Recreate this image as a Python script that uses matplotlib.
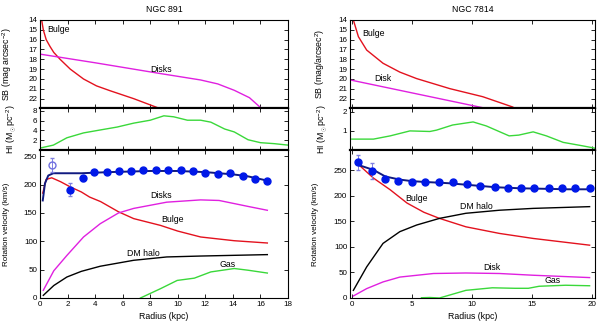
import matplotlib.pyplot as plt
import numpy as np

# ---- NGC 891 ----
n891_sb_bulge_r = [0.12, 0.24, 0.45, 0.73, 1.0, 1.46, 2.2, 3.16, 4.1, 5.1, 6.8, 8.5]
n891_sb_bulge = [14.0, 15.0, 16.0, 16.7, 17.3, 18.0, 19.0, 20.0, 20.7, 21.2, 22.0, 22.9]
n891_sb_disk_r = [0.0, 4.0, 8.75, 11.66, 12.9, 14.1, 15.2, 16.0]
n891_sb_disk = [17.47, 18.35, 19.45, 20.1, 20.5, 21.15, 21.9, 22.9]

n891_hi_r = [0.12, 0.97, 1.95, 3.16, 4.37, 5.6, 6.8, 8.0, 8.99, 9.7, 10.7, 11.66, 12.4, 13.4, 14.1, 15.1, 16.0, 17.0, 18.0]
n891_hi = [0.47, 1.0, 2.5, 3.5, 4.1, 4.7, 5.5, 6.1, 7.0, 6.8, 6.1, 6.1, 5.7, 4.3, 3.7, 2.1, 1.5, 1.3, 1.0]

n891_obs_r = [2.19, 3.11, 3.94, 4.84, 5.71, 6.6, 7.5, 8.4, 9.3, 10.2, 11.1, 12.0, 12.9, 13.8, 14.7, 15.6, 16.5]
n891_obs_v = [191, 211, 223, 222, 224, 224, 226, 226, 226, 226, 224, 221, 218, 220, 216, 209, 207]
n891_obs_err = [12, 4, 3, 3, 3, 3, 3, 3, 3, 3, 3, 3, 3, 3, 3, 3, 3]
n891_open_r = [0.85]
n891_open_v = [235]
n891_open_err = [12]

n891_fit_r = [0.2, 0.36, 0.6, 0.97, 3.0, 5.0, 8.0, 10.0, 12.0, 14.0, 15.0, 16.5]
n891_fit_v = [172, 202, 216, 220, 220, 222, 224, 224, 222, 218, 215, 207]
n891_bulge_r = [0.2, 0.44, 0.85, 1.5, 2.19, 3.0, 3.6, 4.4, 5.7, 6.8, 8.75, 10.0, 11.66, 14.1, 16.5]
n891_bulge_v = [185, 209, 212, 205, 196, 187, 178, 170, 152, 140, 128, 118, 107.6, 101, 97]
n891_disk_r = [0.24, 1.0, 1.95, 3.16, 4.37, 5.7, 6.8, 9.2, 11.66, 13.0, 14.1, 15.2, 16.5]
n891_disk_v = [13.6, 48, 75, 107.6, 131, 150, 158, 169, 173, 172, 166.5, 161, 154.7]
n891_halo_r = [0.24, 1.0, 1.95, 3.0, 4.37, 6.8, 9.2, 11.66, 16.5]
n891_halo_v = [4.7, 22, 37, 47, 56, 66.5, 72.4, 74, 76.5]
n891_gas_r = [7.29, 8.75, 9.96, 11.2, 12.4, 14.1, 15.1, 16.5]
n891_gas_v = [0, 16.5, 31, 35, 46, 52, 49, 44]

# ---- NGC 7814 ----
n7814_sb_bulge_r = [0.13, 0.55, 1.24, 2.6, 4.0, 5.4, 8.16, 10.9, 13.4]
n7814_sb_bulge = [14.0, 15.7, 17.06, 18.4, 19.3, 19.96, 20.98, 21.8, 22.85]
n7814_sb_disk_r = [0.0, 10.9]
n7814_sb_disk = [20.13, 22.92]

n7814_hi_r = [0.0, 1.8, 3.2, 4.84, 6.5, 7.05, 8.4, 10.1, 11.2, 13.1, 13.9, 15.1, 16.2, 17.6, 19.2, 20.2]
n7814_hi = [0.57, 0.57, 0.74, 1.0, 0.97, 1.04, 1.31, 1.47, 1.26, 0.74, 0.78, 0.95, 0.74, 0.4, 0.22, 0.1]

n7814_obs_r = [0.55, 1.66, 2.77, 3.88, 5.0, 6.1, 7.3, 8.4, 9.6, 10.7, 11.9, 13.0, 14.1, 15.2, 16.4, 17.5, 18.6, 19.8]
n7814_obs_v = [266, 249, 233, 230, 228, 228, 228, 227, 223, 220, 217, 215, 215, 215, 215, 215, 215, 215]
n7814_obs_err = [15, 16, 4, 3, 3, 3, 3, 3, 3, 3, 3, 3, 3, 3, 3, 3, 3, 3]

n7814_fit_r = [0.63, 1.8, 2.8, 4.0, 5.0, 6.0, 8.0, 10.0, 12.0, 14.0, 16.0, 18.0, 19.8]
n7814_fit_v = [260, 251, 238, 232, 229, 227.5, 225, 221, 217, 215, 214, 213, 213]
n7814_bulge_r = [0.63, 1.8, 3.2, 4.6, 6.0, 7.3, 9.5, 12.3, 15.1, 19.8]
n7814_bulge_v = [260, 235, 212, 186, 168, 156, 139.5, 126.5, 116.7, 103.5]
n7814_halo_r = [0.13, 1.24, 2.6, 4.0, 5.4, 7.3, 9.5, 12.3, 15.1, 19.8]
n7814_halo_v = [15, 61, 107, 130, 143, 156, 166, 172, 175.6, 179]
n7814_disk_r = [0.13, 1.24, 2.6, 4.0, 6.8, 9.5, 12.3, 15.1, 19.8]
n7814_disk_v = [4, 18.4, 31.5, 41, 48, 49, 48, 44.6, 40]
n7814_gas_r = [5.8, 6.5, 7.3, 9.5, 11.7, 13.6, 14.7, 15.6, 17.8, 19.8]
n7814_gas_v = [0.5, 1, 0, 15, 20, 19, 19, 23, 25, 24]

RED = '#e3121e'
MAG = '#e020e0'
GRN = '#3ad83a'
BLU = '#0018e8'
NAVY = '#101a80'
FS = 6.3
TFS = 5.8

plt.rcParams['font.family'] = ['Liberation Sans', 'DejaVu Sans']
plt.rcParams['font.size'] = FS
plt.rcParams['mathtext.fontset'] = 'custom'
plt.rcParams['mathtext.rm'] = 'Liberation Sans'
plt.rcParams['mathtext.it'] = 'Liberation Sans'

fig = plt.figure(figsize=(6, 3.25), dpi=100)

W, H = 600.0, 325.0


def ax_px(x0, x1, y0, y1):
    return fig.add_axes([x0 / W, 1 - y1 / H, (x1 - x0) / W, (y1 - y0) / H])


def style(ax):
    ax.tick_params(direction='in', top=True, right=True, length=3, width=0.6, pad=2, labelsize=TFS)
    for s in ax.spines.values():
        s.set_linewidth(0.8)


def ylab(ax, text, x0, xpix, width, fs=FS):
    ax.set_ylabel(text, fontsize=fs)
    # xpix is the text centre in figure pixels; label anchor is its right edge
    ax.yaxis.set_label_coords((xpix + 4 - x0) / width, 0.5)


cols = [(40, 288, (0, 18), np.arange(0, 19, 2), 'NGC 891'),
        (350, 595, (-0.15, 20.25), np.arange(0, 21, 5), 'NGC 7814')]

axes = []
for x0, x1, xl, xt, title in cols:
    a1 = ax_px(x0, x1, 20, 108)
    a2 = ax_px(x0, x1, 108, 150)
    a3 = ax_px(x0, x1, 150, 298)
    for a in (a1, a2, a3):
        a.set_xlim(*xl)
        a.set_xticks(xt)
        style(a)
    a1.set_xticklabels([])
    a2.set_xticklabels([])
    a1.set_ylim(22.95, 14)
    a1.set_yticks(np.arange(14, 23))
    a1.spines['bottom'].set_linewidth(1.6)
    a2.spines['bottom'].set_linewidth(1.6)
    a1.set_title(title, fontsize=FS, pad=6)
    a3.set_xlabel('Radius (kpc)', fontsize=FS, labelpad=3)
    axes.append((a1, a2, a3))

(l1, l2, l3), (r1, r2, r3) = axes

# NGC 891
l1.plot(n891_sb_bulge_r, n891_sb_bulge, color=RED, lw=1)
l1.plot(n891_sb_disk_r, n891_sb_disk, color=MAG, lw=1)
l1.text(0.5, 14.95, 'Bulge', va='center')
l1.text(8.8, 19.03, 'Disks', va='center', ha='center')
ylab(l1, 'SB (mag arcsec$^{-2}$)', 40, 10, 248)

l2.plot(n891_hi_r, n891_hi, color=GRN, lw=1)
l2.set_ylim(0, 8.6)
l2.set_yticks([2, 4, 6, 8])
ylab(l2, 'HI (M$_\\odot$pc$^{-2}$)', 40, 14, 248)

l3.set_ylim(0, 261)
l3.set_yticks(np.arange(0, 251, 50))
l3.plot(n891_bulge_r, n891_bulge_v, color=RED, lw=1)
l3.plot(n891_disk_r, n891_disk_v, color=MAG, lw=1)
l3.plot(n891_halo_r, n891_halo_v, color='black', lw=1)
l3.plot(n891_gas_r, n891_gas_v, color=GRN, lw=1)
l3.plot(n891_fit_r, n891_fit_v, color=NAVY, lw=1.4)
l3.errorbar(n891_obs_r, n891_obs_v, yerr=n891_obs_err, fmt='o', color=BLU, ms=5,
            ecolor='#8080e0', elinewidth=0.7, capsize=1.5)
l3.errorbar(n891_open_r, n891_open_v, yerr=n891_open_err, fmt='o', mfc='none', mec='#7070e0',
            ms=5, ecolor='#8080e0', elinewidth=0.7, capsize=1.5)
l3.text(8.8, 181, 'Disks', ha='center', va='center')
l3.text(9.65, 139, 'Bulge', ha='center', va='center')
l3.text(7.5, 79, 'DM halo', ha='center', va='center')
l3.text(13.6, 59.5, 'Gas', ha='center', va='center')
ylab(l3, 'Rotation velocity (km/s)', 40, 6, 248, fs=5.8)

# NGC 7814
r1.plot(n7814_sb_bulge_r, n7814_sb_bulge, color=RED, lw=1)
r1.plot(n7814_sb_disk_r, n7814_sb_disk, color=MAG, lw=1)
r1.text(0.9, 15.4, 'Bulge', va='center')
r1.text(1.85, 20.0, 'Disk', va='center')
ylab(r1, 'SB (mag/arcsec$^2$)', 350, 323, 245)

r2.plot(n7814_hi_r, n7814_hi, color=GRN, lw=1)
r2.set_ylim(0, 2.2)
r2.set_yticks([1, 2])
ylab(r2, 'HI (M$_\\odot$pc$^{-2}$)', 350, 325, 245)

r3.set_ylim(0, 290)
r3.set_yticks(np.arange(0, 251, 50))
r3.plot(n7814_bulge_r, n7814_bulge_v, color=RED, lw=1)
r3.plot(n7814_halo_r, n7814_halo_v, color='black', lw=1)
r3.plot(n7814_disk_r, n7814_disk_v, color=MAG, lw=1)
r3.plot(n7814_gas_r, n7814_gas_v, color=GRN, lw=1)
r3.plot(n7814_fit_r, n7814_fit_v, color=NAVY, lw=1.4)
r3.errorbar(n7814_obs_r, n7814_obs_v, yerr=n7814_obs_err, fmt='o', color=BLU, ms=5,
            ecolor='#8080e0', elinewidth=0.7, capsize=1.5)
r3.text(5.4, 195, 'Bulge', ha='center', va='center')
r3.text(10.4, 180, 'DM halo', ha='center', va='center')
r3.text(11.7, 60, 'Disk', ha='center', va='center')
r3.text(16.7, 35, 'Gas', ha='center', va='center')
ylab(r3, 'Rotation velocity (km/s)', 350, 315, 245, fs=5.8)

fig.savefig('out.png', dpi=100)
